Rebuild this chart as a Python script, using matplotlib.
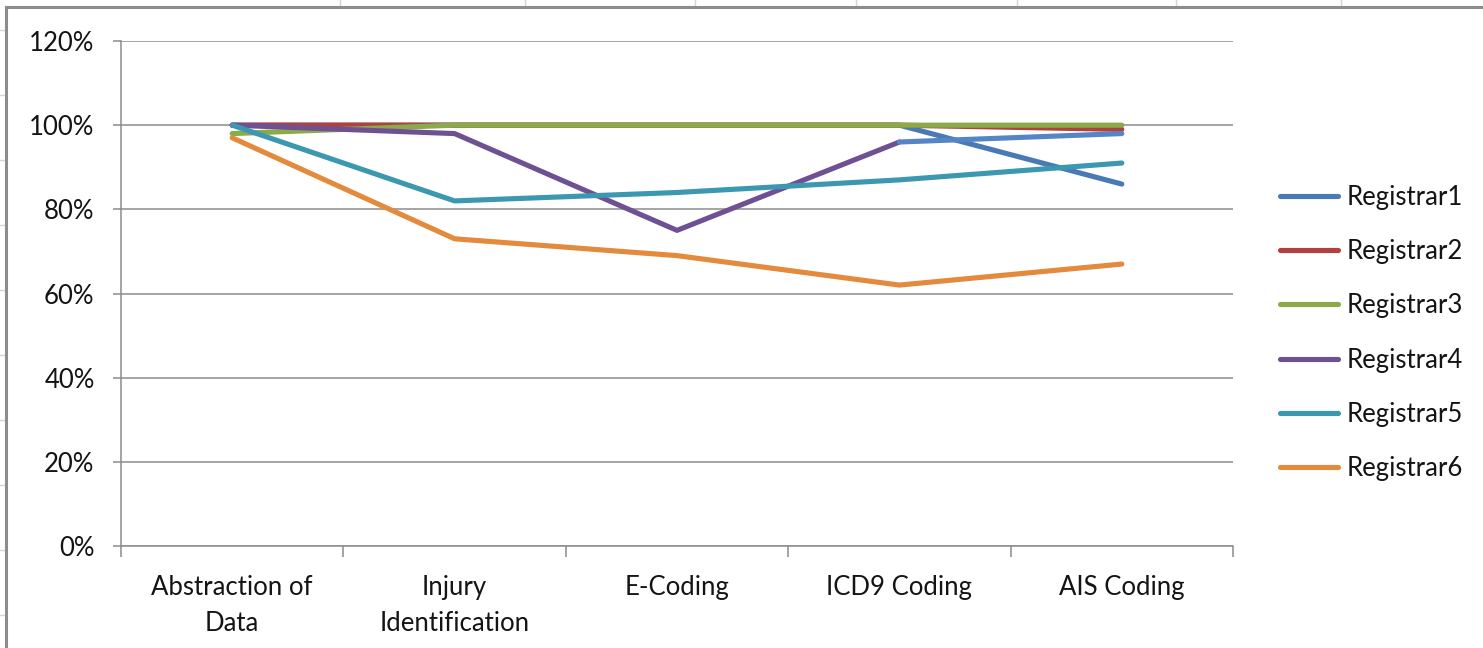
import matplotlib
matplotlib.use("Agg")
import matplotlib.pyplot as plt
from matplotlib.lines import Line2D

categories = ["Abstraction of\nData", "Injury\nIdentification", "E-Coding", "ICD9 Coding", "AIS Coding"]
series_names = ["Registrar1", "Registrar2", "Registrar3", "Registrar4", "Registrar5", "Registrar6"]
registrar1 = [100, 100, 100, 100, 86]
registrar2 = [100, 100, 100, 100, 99]
registrar3 = [98, 100, 100, 100, 100]
registrar4 = [100, 98, 75, 96, 98]
registrar5 = [100, 82, 84, 87, 91]
registrar6 = [97, 73, 69, 62, 67]
yticks = [0, 20, 40, 60, 80, 100, 120]
ytick_labels = ["0%", "20%", "40%", "60%", "80%", "100%", "120%"]

colors = ["#4A7AB5", "#B0413E", "#8BAA4A", "#6F5193", "#3C98B0", "#E38A3C"]
seg_override_color = "#5585C4"  # last segment of Registrar4 drawn in blue

W, H = 1483, 648
FS = 18.5
fig = plt.figure(figsize=(W / 100, H / 100), dpi=100)
plt.rcParams['font.family'] = ['Lato', 'DejaVu Sans']

# spreadsheet background lines and chart border
for xv in [340, 525, 695, 856, 1017, 1176, 1341]:
    fig.add_artist(Line2D([xv / W, xv / W], [1, 1 - 7 / H], transform=fig.transFigure,
                          color="#D4D4D4", lw=1))
for yv in [30, 95, 160, 225, 290, 355, 420, 485, 550, 615]:
    fig.add_artist(Line2D([0, 4 / W], [1 - yv / H, 1 - yv / H], transform=fig.transFigure,
                          color="#D4D4D4", lw=1))
fig.add_artist(Line2D([6 / W, 6 / W], [0, 1 - 7 / H], transform=fig.transFigure, color="#8C8C8C", lw=2.2))
fig.add_artist(Line2D([6 / W, 1], [1 - 7 / H, 1 - 7 / H], transform=fig.transFigure, color="#8C8C8C", lw=2.2))

ax = fig.add_axes([121 / W, 1 - 546 / H, (1233 - 121) / W, (546 - 41) / H])
x = list(range(len(categories)))
data = [registrar1, registrar2, registrar3, registrar4, registrar5, registrar6]

LW = 3.7
handles = []
for i, (name, vals) in enumerate(zip(series_names, data)):
    if name == "Registrar4":
        ax.plot(x[:4], vals[:4], color=colors[i], lw=LW, solid_capstyle="round",
                solid_joinstyle="round", zorder=3 + i)
        ax.plot(x[3:], vals[3:], color=seg_override_color, lw=LW, solid_capstyle="round",
                solid_joinstyle="round", zorder=3 + i)
    else:
        ax.plot(x, vals, color=colors[i], lw=LW, solid_capstyle="round",
                solid_joinstyle="round", zorder=3 + i)
    handles.append(Line2D([], [], color=colors[i], lw=LW, solid_capstyle="round", label=name))

ax.set_xlim(-0.5, len(categories) - 0.5)
ax.set_ylim(0, 120)
ax.set_yticks(yticks)
ax.set_yticklabels(ytick_labels, fontsize=FS, color="#141414")
ax.yaxis.grid(True, color="#8C8C8C", lw=1.1)
ax.set_axisbelow(True)

ax.set_xticks([i - 0.5 for i in range(len(categories) + 1)])
ax.set_xticklabels([])
ax.set_xticks(x, minor=True)
ax.set_xticklabels(categories, minor=True, fontsize=FS, color="#141414", linespacing=1.55)
ax.tick_params(axis="x", which="minor", length=0, pad=21)
ax.tick_params(axis="x", which="major", length=8, width=1.1, color="#8C8C8C")
ax.tick_params(axis="y", length=6, width=1.1, color="#8C8C8C", pad=13)

for s in ["top", "right"]:
    ax.spines[s].set_visible(False)
for s in ["left", "bottom"]:
    ax.spines[s].set_color("#8C8C8C")
    ax.spines[s].set_linewidth(1.1)

leg = fig.legend(handles=handles, loc="center left", bbox_to_anchor=(1257 / W, 1 - 333 / H),
                 frameon=False, fontsize=FS, labelspacing=1.14, handlelength=2.26,
                 handletextpad=0.31)
for t in leg.get_texts():
    t.set_color("#141414")

fig.savefig("out.png", dpi=100)
